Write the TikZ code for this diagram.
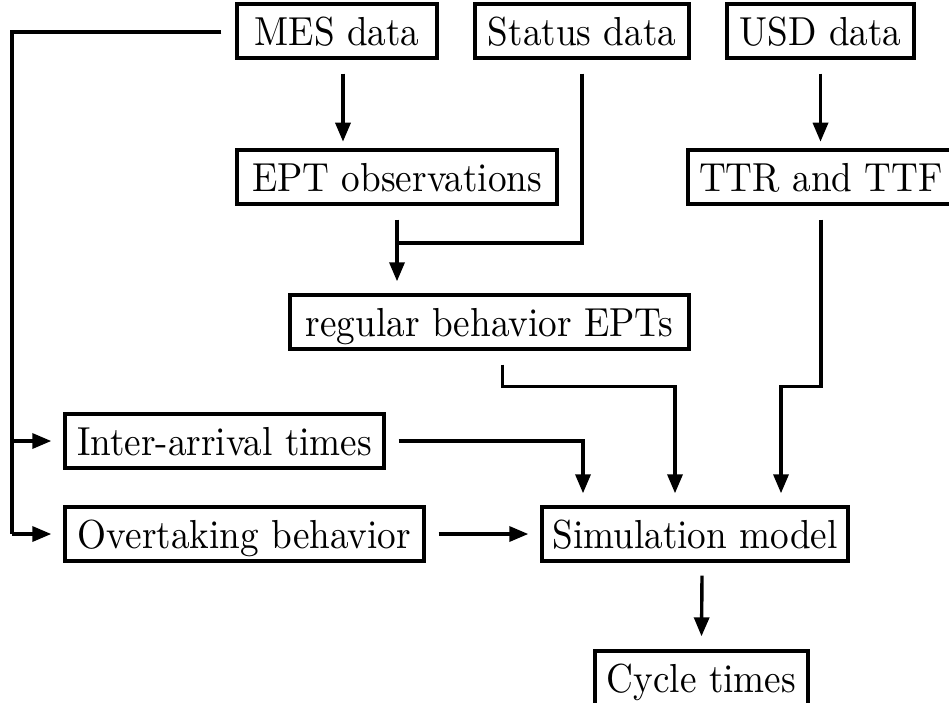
\documentclass[tikz,border=0pt]{standalone}
\usetikzlibrary{arrows.meta,calc}
\newcommand{\vtext}[1]{\scalebox{3.72}[4.05]{#1}}
\begin{document}
\begin{tikzpicture}[x=1pt,y=-1pt,
  box/.style={draw, line width=3.4pt, inner xsep=0pt, inner ysep=13pt,
    text height=28pt, text depth=0pt, font=\fontsize{10}{12}\selectfont},
  ln/.style={line width=3.4pt},
  arr/.style={line width=3.4pt, -{Triangle[length=19pt,width=15pt]}}]
\useasboundingbox[fill=white] (0,0) rectangle (949,702);
% nodes
\node[box, minimum width=200pt] (mes) at (337,31) {\vtext{MES data}};
\node[box, minimum width=214pt] (status) at (582,31) {\vtext{Status data}};
\node[box, minimum width=187pt] (usd) at (820.5,31) {\vtext{USD data}};
\node[box, minimum width=320pt] (ept) at (397,177) {\vtext{EPT observations}};
\node[box, minimum width=266pt] (ttr) at (821,177) {\vtext{TTR and TTF}};
\node[box, minimum width=399pt] (reg) at (489.5,322) {\vtext{regular behavior EPTs}};
\node[box, minimum width=319pt] (inter) at (224.5,441) {\vtext{Inter-arrival times}};
\node[box, minimum width=359pt] (ovt) at (244.5,534) {\vtext{Overtaking behavior}};
\node[box, minimum width=306pt] (sim) at (695,534) {\vtext{Simulation model}};
\node[box, minimum width=213pt] (cyc) at (701.5,678) {\vtext{Cycle times}};
% connectors
\coordinate (bl) at (12,534);
\draw[ln] ($(mes.west)+(-14,1)$) -| (bl);
\draw[arr] (bl) -- ($(ovt.west)+(-12,0)$);
\draw[arr] (bl |- inter.west) -- ($(inter.west)+(-12,0)$);
\draw[arr] ($(mes.south)+(6,14)$) -- ($(mes.south)+(6,82)$);
\draw[arr] ($(usd.south)+(0,14)$) -- ($(usd.south)+(0,82)$);
\draw[ln] ($(status.south)+(0,14)$) |- (ept.south |- 0,243);
\draw[arr] ($(ept.south)+(0,14)$) -- ($(ept.south |- reg.north)+(0,-12)$);
\draw[arr] ($(reg.south)+(13,14)$) |- ($(sim.north)+(-20,-119)$) -- ($(sim.north)+(-20,-12)$);
\draw[arr] ($(ttr.south)+(0,14)$) |- ($(sim.north)+(86,-119)$) -- ($(sim.north)+(86,-12)$);
\draw[arr] ($(inter.east)+(13,0)$) -| ($(sim.north)+(-112,-12)$);
\draw[arr] ($(ovt.east)+(13,0)$) -- ($(sim.west)+(-12,0)$);
\draw[arr] ($(sim.south)+(7,13)$) -- ($(cyc.north)+(0,-13)$);
\end{tikzpicture}
\end{document}
